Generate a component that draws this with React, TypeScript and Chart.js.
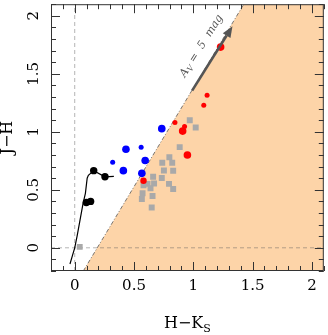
import React, { useEffect, useRef } from "react";
import { Chart, registerables } from "chart.js";

Chart.register(...registerables);

// ---- axes ----
const xMin = -0.2;
const xMax = 2.1;
const yMin = -0.2;
const yMax = 2.1;
const majorTicks = [0, 0.5, 1, 1.5, 2];
const minorStep = 0.1;

// ---- reddening boundary: J-H = slope * (H-K - zero) ----
const reddeningSlope = 1.7;
const reddeningZero = 0.19;

// ---- intrinsic locus (black line) ----
const locusX = [-0.04, -0.02, 0.0, 0.02, 0.045, 0.07, 0.09, 0.105, 0.115, 0.16, 0.255, 0.33];
const locusY = [-0.14, -0.07, 0.0, 0.1, 0.24, 0.38, 0.47, 0.6, 0.625, 0.665, 0.612, 0.615];

// ---- black circles ----
const blackX = [0.16, 0.255, 0.098, 0.134];
const blackY = [0.665, 0.612, 0.39, 0.4];

// ---- blue circles ----
const blueBigX = [0.432, 0.41, 0.594, 0.566, 0.734];
const blueBigY = [0.849, 0.665, 0.753, 0.642, 1.027];
const blueSmallX = [0.56, 0.32];
const blueSmallY = [0.866, 0.738];

// ---- red circles ----
const redBigX = [1.23, 0.91, 0.95];
const redBigY = [1.73, 1.006, 0.8];
const redMidX = [0.58];
const redMidY = [0.578];
const redSmallX = [0.845, 0.926, 1.116, 1.088];
const redSmallY = [1.08, 1.045, 1.315, 1.228];

// ---- grey squares ----
const greyX = [0.97, 1.02, 0.885, 0.798, 0.822, 0.738, 0.752, 0.83, 0.661, 0.734, 0.58, 0.614, 0.669, 0.639, 0.795, 0.83, 0.572, 0.566, 0.656, 0.649, 0.042];
const greyY = [1.1, 1.037, 0.868, 0.781, 0.734, 0.733, 0.666, 0.664, 0.612, 0.602, 0.54, 0.551, 0.555, 0.513, 0.551, 0.507, 0.47, 0.42, 0.446, 0.348, 0.008];

// ---- extinction arrow ----
const arrowStart = [0.99, 1.355];
const arrowEnd = [1.33, 1.91];
const arrowLabelAt = [1.07, 1.74];

const SERIF = "'DejaVu Serif', serif";

const pts = (xs: number[], ys: number[]) => xs.map((x, i) => ({ x, y: ys[i] }));
const boundaryX = (y: number) => reddeningZero + y / reddeningSlope;

const decor = {
  id: "decor",
  afterDatasetsDraw(chart: any) {
    const { ctx, chartArea: a, scales } = chart;
    const xs = scales.x;
    const ys = scales.y;
    ctx.save();
    ctx.strokeStyle = "#333";
    ctx.lineWidth = 1;
    ctx.strokeRect(a.left + 0.5, a.top + 0.5, a.right - a.left - 1, a.bottom - a.top - 1);

    // inward ticks on all sides
    const nx0 = Math.round(xMin / minorStep);
    const nx1 = Math.round(xMax / minorStep);
    ctx.beginPath();
    for (let i = nx0; i <= nx1; i++) {
      const v = i * minorStep;
      const len = i % 5 === 0 ? 9 : 5;
      const px = Math.round(xs.getPixelForValue(v)) + 0.5;
      ctx.moveTo(px, a.bottom);
      ctx.lineTo(px, a.bottom - len);
      ctx.moveTo(px, a.top);
      ctx.lineTo(px, a.top + len);
    }
    const ny0 = Math.round(yMin / minorStep);
    const ny1 = Math.round(yMax / minorStep);
    for (let i = ny0; i <= ny1; i++) {
      const v = i * minorStep;
      const len = i % 5 === 0 ? 9 : 5;
      const py = Math.round(ys.getPixelForValue(v)) + 0.5;
      ctx.moveTo(a.left, py);
      ctx.lineTo(a.left + len, py);
      ctx.moveTo(a.right, py);
      ctx.lineTo(a.right - len, py);
    }
    ctx.stroke();

    // y tick labels (rotated)
    ctx.fillStyle = "#000";
    ctx.font = `15px ${SERIF}`;
    ctx.textAlign = "center";
    ctx.textBaseline = "middle";
    for (const t of ys.ticks) {
      const py = ys.getPixelForValue(t.value);
      ctx.save();
      ctx.translate(34, py);
      ctx.rotate(-Math.PI / 2);
      ctx.fillText(String(t.value), 0, 0);
      ctx.restore();
    }

    // y title
    ctx.save();
    ctx.font = `16px ${SERIF}`;
    ctx.translate(8, (a.top + a.bottom) / 2);
    ctx.rotate(-Math.PI / 2);
    ctx.fillText("J\u2212H", 0, 0);
    ctx.restore();

    // x title with subscript
    ctx.save();
    ctx.textAlign = "left";
    ctx.textBaseline = "alphabetic";
    ctx.font = `16px ${SERIF}`;
    const main = "H\u2212K";
    const wMain = ctx.measureText(main).width;
    ctx.font = `11px ${SERIF}`;
    const wSub = ctx.measureText("S").width;
    const cx = (a.left + a.right) / 2;
    const x0 = cx - (wMain + wSub) / 2;
    ctx.font = `16px ${SERIF}`;
    ctx.fillText(main, x0, 328);
    ctx.font = `11px ${SERIF}`;
    ctx.fillText("S", x0 + wMain, 332);
    ctx.restore();

    // extinction arrow
    const sx = xs.getPixelForValue(arrowStart[0]);
    const sy = ys.getPixelForValue(arrowStart[1]);
    const ex = xs.getPixelForValue(arrowEnd[0]);
    const ey = ys.getPixelForValue(arrowEnd[1]);
    const ang = Math.atan2(ey - sy, ex - sx);
    const headL = 11;
    const headW = 4.5;
    const bx = ex - headL * Math.cos(ang);
    const by = ey - headL * Math.sin(ang);
    ctx.strokeStyle = "#555";
    ctx.fillStyle = "#555";
    ctx.lineWidth = 2.6;
    ctx.beginPath();
    ctx.moveTo(sx, sy);
    ctx.lineTo(bx, by);
    ctx.stroke();
    ctx.beginPath();
    ctx.moveTo(ex, ey);
    ctx.lineTo(bx + headW * Math.sin(ang), by - headW * Math.cos(ang));
    ctx.lineTo(bx - headW * Math.sin(ang), by + headW * Math.cos(ang));
    ctx.closePath();
    ctx.fill();

    // arrow label
    const lx = xs.getPixelForValue(arrowLabelAt[0]);
    const ly = ys.getPixelForValue(arrowLabelAt[1]);
    ctx.save();
    ctx.translate(lx, ly);
    ctx.rotate(ang);
    ctx.fillStyle = "#555";
    ctx.textBaseline = "middle";
    ctx.textAlign = "left";
    const big = `italic 11px ${SERIF}`;
    const small = `italic 8px ${SERIF}`;
    ctx.font = big;
    const wA = ctx.measureText("A").width;
    const rest = " =  5  mag";
    const wR = ctx.measureText(rest).width;
    ctx.font = small;
    const wV = ctx.measureText("V").width;
    const total = wA + wV + wR;
    let px = -total / 2;
    ctx.font = big;
    ctx.fillText("A", px, 0);
    px += wA;
    ctx.font = small;
    ctx.fillText("V", px, 3);
    px += wV;
    ctx.font = big;
    ctx.fillText(rest, px, 0);
    ctx.restore();

    ctx.restore();
  },
};

export default function App() {
  const ref = useRef<HTMLCanvasElement | null>(null);
  useEffect(() => {
    if (!ref.current) return;
    const majorBuild = (s: any) => {
      s.ticks = majorTicks.map((v) => ({ value: v }));
    };
    const chart = new Chart(ref.current, {
      type: "scatter",
      data: {
        datasets: [
          {
            data: [
              { x: boundaryX(yMin), y: yMin },
              { x: boundaryX(yMax), y: yMax },
              { x: xMax, y: yMax },
            ],
            showLine: true,
            fill: "start",
            backgroundColor: "#FDD4A8",
            borderWidth: 0,
            pointRadius: 0,
            order: 20,
          },
          {
            data: [
              { x: 0, y: yMin },
              { x: 0, y: yMax },
            ],
            showLine: true,
            borderColor: "#b4b4b4",
            borderWidth: 1,
            borderDash: [4, 3],
            pointRadius: 0,
            order: 18,
          },
          {
            data: [
              { x: xMin, y: 0 },
              { x: xMax, y: 0 },
            ],
            showLine: true,
            borderColor: "rgba(90,90,90,0.45)",
            borderWidth: 1,
            borderDash: [4, 3],
            pointRadius: 0,
            order: 16,
          },
          {
            data: [
              { x: boundaryX(yMin), y: yMin },
              { x: boundaryX(yMax), y: yMax },
            ],
            showLine: true,
            borderColor: "#555",
            borderWidth: 0.8,
            borderDash: [4, 2, 1, 2],
            pointRadius: 0,
            order: 15,
          },
          {
            data: pts(locusX, locusY),
            showLine: true,
            borderColor: "#000",
            borderWidth: 1.2,
            pointRadius: 0,
            order: 7,
          },
          {
            data: pts(greyX, greyY),
            pointStyle: "rect",
            pointRadius: 4.2,
            backgroundColor: "#a9a9a9",
            borderWidth: 0,
            order: 6,
          },
          {
            data: pts(blackX, blackY),
            pointRadius: 3.7,
            backgroundColor: "#000",
            borderWidth: 0,
            order: 5,
          },
          {
            data: pts(blueBigX, blueBigY),
            pointRadius: 3.8,
            backgroundColor: "#0000ff",
            borderWidth: 0,
            order: 4,
          },
          {
            data: pts(blueSmallX, blueSmallY),
            pointRadius: 2.5,
            backgroundColor: "#0000ff",
            borderWidth: 0,
            order: 4,
          },
          {
            data: pts(redBigX, redBigY),
            pointRadius: 3.8,
            backgroundColor: "#ff0000",
            borderWidth: 0,
            order: 3,
          },
          {
            data: pts(redMidX, redMidY),
            pointRadius: 3.2,
            backgroundColor: "#ff0000",
            borderWidth: 0,
            order: 3,
          },
          {
            data: pts(redSmallX, redSmallY),
            pointRadius: 2.5,
            backgroundColor: "#ff0000",
            borderWidth: 0,
            order: 3,
          },
        ],
      },
      options: {
        animation: false,
        responsive: false,
        layout: { padding: { top: 1, right: 2, left: 0, bottom: 0 } },
        plugins: { legend: { display: false }, tooltip: { enabled: false } },
        scales: {
          x: {
            type: "linear",
            min: xMin,
            max: xMax,
            grid: { display: false, drawTicks: false },
            border: { display: false },
            ticks: {
              font: { family: SERIF, size: 15 },
              color: "#000",
              padding: 6,
              maxRotation: 0,
              autoSkip: false,
              callback: (v: any) => String(v),
            },
            afterBuildTicks: majorBuild,
            afterFit: (s: any) => {
              s.height = 64;
            },
          },
          y: {
            type: "linear",
            min: yMin,
            max: yMax,
            grid: { display: false, drawTicks: false },
            border: { display: false },
            ticks: { display: false },
            afterBuildTicks: majorBuild,
            afterFit: (s: any) => {
              s.width = 51;
            },
          },
        },
      },
      plugins: [decor],
    } as any);
    return () => chart.destroy();
  }, []);
  return (
    <div style={{ position: "absolute", left: 0, top: 0, width: 328, height: 335 }}>
      <canvas ref={ref} width={328} height={335} style={{ width: 328, height: 335 }} />
    </div>
  );
}
